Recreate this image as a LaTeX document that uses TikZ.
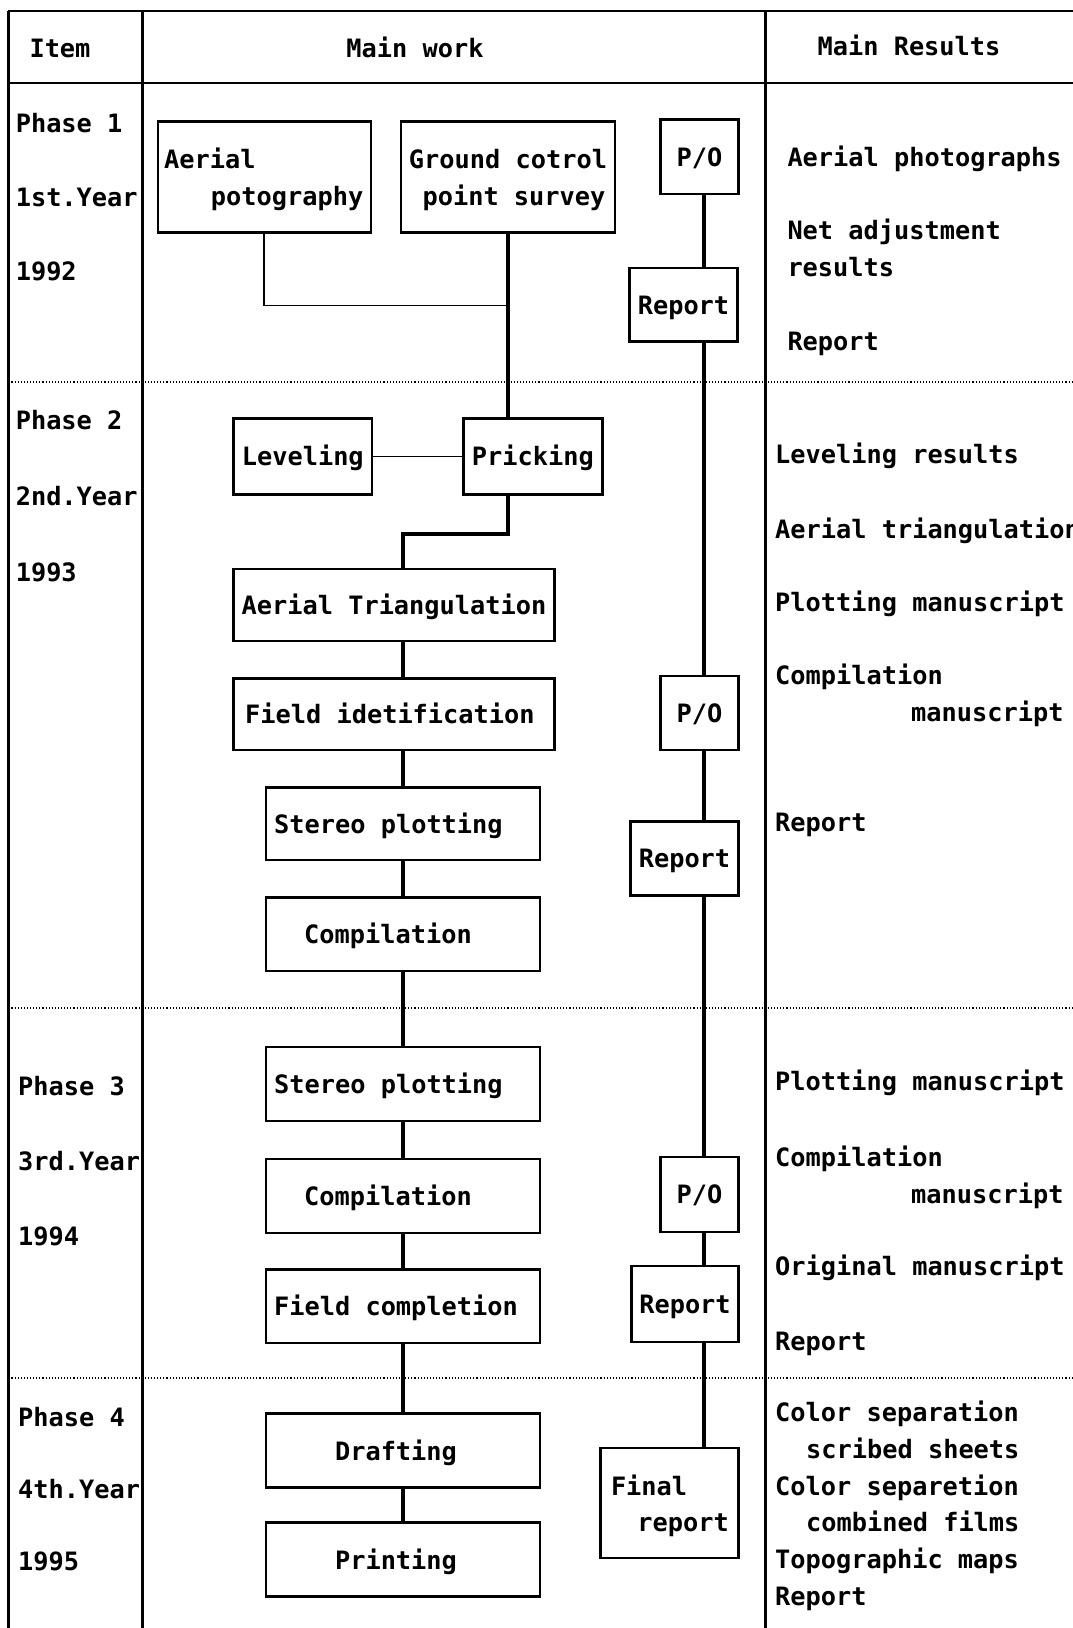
\documentclass[tikz,border=0pt]{standalone}
\usepackage{fontspec}
\setmainfont{DejaVu Sans Mono}
\usetikzlibrary{fit}
\newcommand\tf{\fontsize{25.3pt}{30pt}\selectfont\bfseries}
\tikzset{
 every node/.style={font=\tf},
 box/.style={draw, line width=2.5pt, inner sep=0pt},
 txt/.style={inner sep=0pt, text height=18.5pt, text depth=0pt, anchor=west},
 txtr/.style={inner sep=0pt, text height=18.5pt, text depth=0pt, anchor=east},
 txtc/.style={inner sep=0pt, text height=18.5pt, text depth=0pt},
 conn/.style={line width=3.2pt},
 thin conn/.style={line width=1.8pt},
 rule/.style={line width=2.6pt},
 hrule/.style={line width=1.4pt},
 sep/.style={line width=1.1pt, dotted},
}
\begin{document}
\begin{tikzpicture}[x=1pt,y=-1pt]
\fill[white] (0,0) rectangle (1073,1628);
\useasboundingbox (0,0) rectangle (1073,1628);

% table frame
\coordinate (tl) at (8.3,11);
\coordinate (bl) at (8.3,1628);
\coordinate (c1t) at (142.3,11);
\coordinate (c1b) at (142.3,1628);
\coordinate (c2t) at (765.5,11);
\coordinate (c2b) at (765.5,1628);
\coordinate (tr) at (1073,11);
\coordinate (hl) at (8.3,83);
\coordinate (hr) at (1073,83);
\draw[hrule] (tl) -- (tr);
\draw[hrule] (hl) -- (hr);
\draw[rule] (tl) -- (bl);
\draw[rule] (c1t) -- (c1b);
\draw[rule] (c2t) -- (c2b);
\coordinate (s1l) at (8.3,382); \coordinate (s1r) at (1073,382);
\coordinate (s2l) at (8.3,1008); \coordinate (s2r) at (1073,1008);
\coordinate (s3l) at (8.3,1378); \coordinate (s3r) at (1073,1378);
\draw[sep] (s1l) -- (s1r);
\draw[sep] (s2l) -- (s2r);
\draw[sep] (s3l) -- (s3r);

% header
\node[txtc] (hitem) at (60,48) {Item};
\node[txtc] (hwork) at (415,48) {Main work};
\node[txtc] (hres) at (909,46) {Main Results};

% left column
\node[txt] (p1) at (15.6,123.6) {Phase 1};
\node[txt] (y1) at (15.6,197.4) {1st.Year};
\node[txt] (d1) at (15.6,271) {1992};
\node[txt] (p2) at (15.6,420.7) {Phase 2};
\node[txt] (y2) at (15.6,496.5) {2nd.Year};
\node[txt] (d2) at (15.6,572.3) {1993};
\node[txt] (p3) at (18,1086.5) {Phase 3};
\node[txt] (y3) at (18,1161.3) {3rd.Year};
\node[txt] (d3) at (18,1236) {1994};
\node[txt] (p4) at (18,1416.8) {Phase 4};
\node[txt] (y4) at (18,1489.5) {4th.Year};
\node[txt] (d4) at (18,1561.2) {1995};

% main work boxes
\node[box, fit={(157.9,121.5) (370.8,232.7)}] (ap) {};
\node[txt] (apt1) at (164,159) {Aerial};
\node[txtr] (apt2) at (363.5,196.3) {potography};
\node[box, fit={(401,121.5) (615,232.7)}] (gc) {};
\node[txtc] (gct1) at (508,159) {Ground cotrol};
\node[txtc] (gct2) at (514,196.3) {point survey};

\node[box, fit={(233.7,418.6) (371.9,494.4)}] (lev) {};
\node[txtc] (levt) at (lev.center) {Leveling};
\node[box, fit={(463.3,418.6) (602.4,494.4)}] (pri) {};
\node[txtc] (prit) at (pri.center) {Pricking};
\node[box, fit={(233.7,569.2) (554.7,640.9)}] (at) {};
\node[txtc] (att) at (394,605) {Aerial Triangulation};
\node[box, fit={(233.7,678.3) (554.7,750)}] (fi) {};
\node[txt] (fit) at (245,714) {Field idetification};
\node[box, fit={(265.9,787.3) (540.1,860)}] (sp) {};
\node[txt] (spt) at (274,824) {Stereo plotting};
\node[box, fit={(265.9,897.4) (540.1,971.2)}] (cp) {};
\node[txtc] (cpt) at (388,934) {Compilation};
\node[box, fit={(265.9,1047) (540.1,1120.8)}] (sp2) {};
\node[txt] (sp2t) at (274,1084) {Stereo plotting};
\node[box, fit={(265.9,1159.2) (540.1,1233)}] (cp2) {};
\node[txtc] (cp2t) at (388,1196) {Compilation};
\node[box, fit={(265.9,1269.3) (540.1,1343)}] (fc) {};
\node[txtc] (fct) at (396,1306) {Field completion};
\node[box, fit={(265.9,1413.7) (540.1,1487.4)}] (dr) {};
\node[txtc] (drt) at (396,1451) {Drafting};
\node[box, fit={(265.9,1522.7) (540.1,1596.5)}] (pr) {};
\node[txtc] (prt) at (396,1560) {Printing};

% P/O and report boxes
\node[box, fit={(660.6,119.5) (738.5,194.2)}] (po1) {};
\node[txtc] (po1t) at (po1.center) {P/O};
\node[box, fit={(629.5,268) (737.5,341.7)}] (r1) {};
\node[txtc] (r1t) at (r1.center) {Report};
\node[box, fit={(660.6,676.2) (738.5,750)}] (po2) {};
\node[txtc] (po2t) at (po2.center) {P/O};
\node[box, fit={(630.5,821.6) (738.5,895.4)}] (r2) {};
\node[txtc] (r2t) at (r2.center) {Report};
\node[box, fit={(660.6,1157.1) (738.5,1231.9)}] (po3) {};
\node[txtc] (po3t) at (po3.center) {P/O};
\node[box, fit={(631.5,1266.2) (738.5,1342)}] (r3) {};
\node[txtc] (r3t) at (r3.center) {Report};
\node[box, fit={(600.4,1448) (738.5,1558)}] (fr) {};
\node[txt] (frt1) at (610.8,1486.4) {Final};
\node[txtr] (frt2) at (729,1522.7) {report};

% connectors, main work
\coordinate (j1) at (508,305.4);
\draw[thin conn] (ap.south) |- (j1);
\draw[conn] (gc.south) -- (pri.north -| gc.south);
\draw[thin conn] (lev.east) -- (pri.west);
\coordinate (j2) at (403,534);
\draw[conn] (pri.south -| gc.south) |- (j2) -- (at.north -| j2);
\draw[conn] (at.south -| j2) -- (fi.north -| j2);
\draw[conn] (fi.south -| j2) -- (sp.north -| j2);
\draw[conn] (sp.south -| j2) -- (cp.north -| j2);
\draw[conn] (cp.south -| j2) -- (sp2.north -| j2);
\draw[conn] (sp2.south -| j2) -- (cp2.north -| j2);
\draw[conn] (cp2.south -| j2) -- (fc.north -| j2);
\draw[conn] (fc.south -| j2) -- (dr.north -| j2);
\draw[conn] (dr.south -| j2) -- (pr.north -| j2);

% connectors, reports
\coordinate (rl) at (704,0);
\draw[conn] (po1.south -| rl) -- (r1.north -| rl);
\draw[conn] (r1.south -| rl) -- (po2.north -| rl);
\draw[conn] (po2.south -| rl) -- (r2.north -| rl);
\draw[conn] (r2.south -| rl) -- (po3.north -| rl);
\draw[conn] (po3.south -| rl) -- (r3.north -| rl);
\draw[conn] (r3.south -| rl) -- (fr.north -| rl);

% results column
\node[txt] (a1) at (787.3,156.8) {Aerial photographs};
\node[txt] (a2) at (787.3,230.6) {Net adjustment};
\node[txt] (a3) at (787.3,267) {results};
\node[txt] (a4) at (787.3,341.7) {Report};

\node[txt] (b1) at (775,453.9) {Leveling results};
\node[txt] (b2) at (775,529.7) {Aerial triangulation};
\node[txt] (b3) at (775,602.4) {Plotting manuscript};
\node[txt] (b4) at (775,675.2) {Compilation};
\node[txt] (b5) at (911,712.5) {manuscript};
\node[txt] (b6) at (775,822.6) {Report};

\node[txt] (c1) at (775,1081.3) {Plotting manuscript};
\node[txt] (c2) at (775,1157.1) {Compilation};
\node[txt] (c3) at (911,1194.5) {manuscript};
\node[txt] (c4) at (775,1266.2) {Original manuscript};
\node[txt] (c5) at (775,1341) {Report};

\node[txt] (e1) at (775,1412.6) {Color separation};
\node[txt] (e2) at (806,1449) {scribed sheets};
\node[txt] (e3) at (775,1486.4) {Color separetion};
\node[txt] (e4) at (806,1522.7) {combined films};
\node[txt] (e5) at (775,1559) {Topographic maps};
\node[txt] (e6) at (775,1596.5) {Report};
\end{tikzpicture}
\end{document}
